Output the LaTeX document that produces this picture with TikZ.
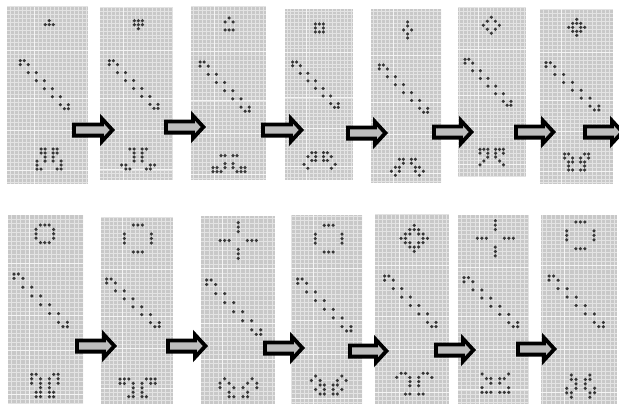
\documentclass[tikz,border=0pt]{standalone}
\definecolor{panelc}{HTML}{C8C8C8}
\definecolor{gridc}{HTML}{E3E3E3}
\definecolor{majc}{HTML}{F4F4F4}
\definecolor{dotc}{HTML}{363636}
\definecolor{arrowfill}{HTML}{BDBDBD}
\tikzset{
  panelbox/.style={fill=panelc, draw=none, inner sep=0pt, outer sep=0pt},
  minorline/.style={draw=gridc, line width=0.75pt},
  majorline/.style={draw=majc, line width=0.9pt},
  blockarr/.style={draw=black, fill=arrowfill, line width=3.8pt, miter limit=10},
}
% #1 name, #2 L, #3 T, #4 R, #5 B, #6 ox, #7 oy, #8 sx, #9 sy
\newcommand\gpanel[9]{%
  \node[panelbox, minimum width={#4-#2}, minimum height={#5-#3}] (#1) at ({(#2+#4)/2},{(#3+#5)/2}) {};
  \begin{scope}
    \clip (#1.north west) rectangle (#1.south east);
    \foreach \k in {-8,...,25} {\draw[minorline] ({#6-#8/2+\k*#8},#3) -- ({#6-#8/2+\k*#8},#5);}
    \foreach \k in {-20,...,40} {\draw[minorline] (#2,{#7-#9/2+\k*#9}) -- (#4,{#7-#9/2+\k*#9});}
    \foreach \k in {4} {\draw[majorline] ({#6-#8/2+\k*#8},#3) -- ({#6-#8/2+\k*#8},#5);}
    \foreach \k in {-2,10,18,28} {\draw[majorline] (#2,{#7-#9/2+\k*#9}) -- (#4,{#7-#9/2+\k*#9});}
  \end{scope}}
% #1 ox, #2 oy, #3 sx, #4 sy, #5 list c/r
\newcommand\cells[5]{\edef\mycelllist{#5}\foreach \c/\r in \mycelllist {\fill[dotc] ({#1+#3*\c},{#2+#4*\r}) circle (1.75pt);}}
\newcommand\chain[4]{\cells{#1}{#2}{#3}{#4}{0/0,1/0,0/1,2/1,2/3,4/3,4/5,6/5,6/7,8/7,8/9,10/9,10/11,12/11,11/12,12/12}}
\newcommand\ringpat{2/0,3/0,4/0,0/2,6/2,0/3,6/3,0/4,6/4,2/6,3/6,4/6}
\newcommand\crosspat{4/0,4/1,4/2,0/4,1/4,2/4,6/4,7/4,8/4,4/6,4/7,4/8}
% #1 x0, #2 x1 (tip), #3 yc
\newcommand\blockarrow[3]{%
  \draw[blockarr] ({#1+1.9},{#3-5.6}) -- ({#2-13.1},{#3-5.6}) -- ({#2-13.1},{#3-11.4}) -- ({#2-2.6},{#3}) -- ({#2-13.1},{#3+11.4}) -- ({#2-13.1},{#3+5.6}) -- ({#1+1.9},{#3+5.6}) -- cycle;}
\begin{document}
\begin{tikzpicture}[x=1pt,y=-1pt]
\useasboundingbox (0,0) rectangle (619,404);
\clip (0,0) rectangle (619,404);
% ---------- row 1 ----------
\gpanel{p1}{7}{7}{88}{184}{20.3}{60.7}{4.0}{4.0}
\gpanel{p2}{100}{7}{173}{180}{109.3}{60.7}{4.06}{3.97}
\gpanel{p3}{191}{6}{266}{180}{200}{62}{4.1}{4.1}
\gpanel{p4}{285}{9}{353}{180}{292.7}{62}{3.8}{3.78}
\gpanel{p5}{371}{9}{441}{183}{379.3}{65}{4.03}{3.94}
\gpanel{p6}{458}{7}{526}{177}{465}{59.3}{3.83}{3.83}
\gpanel{p7}{540}{9}{613}{184}{546}{62.7}{4.4}{3.94}
% ---------- row 2 ----------
\gpanel{p8}{8}{215}{83}{404}{14}{274}{4.45}{4.39}
\gpanel{p9}{101}{217}{173}{404}{106.7}{279}{4.38}{3.97}
\gpanel{p10}{201}{216}{275}{404}{206.7}{280}{4.5}{4.53}
\gpanel{p11}{291}{215}{362}{404}{297.7}{279}{4.44}{4.33}
\gpanel{p12}{375}{214}{449}{404}{384.7}{276}{4.28}{4.22}
\gpanel{p13}{458}{215}{529}{404}{464}{277.7}{4.47}{4.08}
\gpanel{p14}{541}{215}{617}{404}{549}{276}{4.53}{4.22}
% ---------- diagonal chains ----------
\chain{20.3}{60.7}{4.0}{4.0}
\chain{109.3}{60.7}{4.06}{3.97}
\chain{200}{62}{4.1}{4.1}
\chain{292.7}{62}{3.8}{3.78}
\chain{379.3}{65}{4.03}{3.94}
\chain{465}{59.3}{3.83}{3.83}
\chain{546}{62.7}{4.4}{3.94}
\chain{14}{274}{4.45}{4.39}
\chain{106.7}{279}{4.38}{3.97}
\chain{206.7}{280}{4.5}{4.53}
\chain{297.7}{279}{4.44}{4.33}
\chain{384.7}{276}{4.28}{4.22}
\chain{464}{277.7}{4.47}{4.08}
\chain{549}{276}{4.53}{4.22}
% ---------- top patterns ----------
\cells{45.3}{20.7}{4}{4}{1/0,0/1,1/1,2/1}
\cells{134.3}{20.7}{4}{4}{0/0,1/0,2/0,0/1,1/1,2/1,1/2}
\cells{225}{18}{4}{4}{1/0,0/1,2/1,0/3,1/3,2/3}
\cells{315.3}{24}{4}{4}{0/0,1/0,2/0,0/1,2/1,0/2,1/2,2/2}
\cells{403.7}{22}{4}{4}{1/0,1/1,0/2,2/2,1/3,1/4}
\cells{483.3}{17.3}{4}{4}{2/0,1/1,3/1,0/2,4/2,1/3,3/3,2/4}
\cells{568.7}{19.3}{4}{4}{2/0,1/1,2/1,3/1,0/2,1/2,3/2,4/2,1/3,2/3,3/3,2/4}
\cells{36}{225}{4.4}{4.4}{1/0,2/0,3/0,0/1,4/1,0/2,4/2,0/3,4/3,1/4,2/4,3/4}
\cells{124.3}{225}{4.5}{4.5}{\ringpat}
\cells{220}{222.7}{4.55}{4.45}{\crosspat}
\cells{315.3}{225.3}{4.45}{4.45}{\ringpat}
\cells{401}{225.3}{4.4}{4.35}{3/0,2/1,3/1,4/1,1/2,2/2,4/2,5/2,0/3,1/3,5/3,6/3,1/4,2/4,4/4,5/4,2/5,3/5,4/5,3/6}
\cells{477.3}{220.7}{4.5}{4.4}{\crosspat}
\cells{566.7}{222}{4.55}{4.45}{\ringpat}
% ---------- bottom patterns ----------
\cells{37}{149}{4}{4}{1/0,2/0,1/1,2/1,2/2,2/3,0/3,0/4,0/5,1/5,4/0,5/0,4/1,5/1,4/2,4/3,6/3,6/4,6/5,5/5}
\cells{121.7}{149}{4.1}{4}{2/0,3/0,5/0,6/0,3/1,5/1,3/2,5/2,3/3,5/3,0/4,1/4,7/4,8/4,1/5,2/5,6/5,7/5}
\cells{213}{155.7}{4}{4}{2/0,3/0,5/0,6/0,3/2,5/2,0/3,1/3,3/3,5/3,7/3,8/3,0/4,1/4,2/4,6/4,7/4,8/4}
\cells{304}{152.7}{3.9}{3.9}{2/0,3/0,5/0,6/0,1/1,3/1,5/1,7/1,2/2,3/2,5/2,6/2,0/3,8/3,1/4,7/4}
\cells{391.3}{159.3}{4}{4}{2/0,3/0,5/0,6/0,3/1,5/1,1/2,2/2,6/2,7/2,0/3,2/3,6/3,8/3,1/4,7/4}
\cells{480}{149.3}{3.9}{3.9}{0/0,1/0,2/0,4/0,5/0,6/0,0/1,2/1,4/1,6/1,2/2,4/2,1/3,5/3,0/4,6/4}
\cells{564.7}{154}{4}{4}{0/0,1/0,5/0,6/0,0/1,2/1,4/1,6/1,1/2,2/2,4/2,5/2,1/3,5/3,1/4,2/4,4/4,5/4}
\cells{31.7}{374.3}{4.4}{4.48}{0/0,1/0,5/0,6/0,0/1,2/1,4/1,6/1,0/2,2/2,4/2,6/2,2/3,4/3,1/4,2/4,4/4,5/4,1/5,2/5,4/5,5/5}
\cells{120}{379}{4.4}{4.42}{0/0,1/0,2/0,6/0,7/0,8/0,0/1,1/1,3/1,5/1,7/1,8/1,3/2,5/2,3/3,5/3,2/4,3/4,5/4,6/4}
\cells{220}{378.7}{4.6}{4.5}{1/0,0/1,2/1,0/2,3/2,2/3,2/4,3/4,7/0,8/1,6/1,8/2,5/2,6/3,5/4,6/4}
\cells{311.3}{376}{4.35}{4.5}{1/0,7/0,0/1,2/1,6/1,8/1,2/2,3/2,5/2,6/2,1/3,3/3,5/3,7/3,2/4,3/4,5/4,6/4}
\cells{396.7}{373.3}{4.4}{4.15}{1/0,2/0,6/0,7/0,0/1,3/1,5/1,8/1,3/2,5/2,3/3,5/3,2/5,3/5,5/5,6/5}
\cells{482}{374}{4.45}{4.58}{0/0,6/0,1/1,2/1,4/1,5/1,2/2,4/2,0/3,6/3,0/4,1/4,2/4,4/4,5/4,6/4}
\cells{566.7}{375}{4.65}{4.45}{1/0,5/0,1/1,2/1,4/1,5/1,2/2,4/2,0/3,2/3,4/3,6/3,0/4,1/4,5/4,6/4,1/5,5/5}
% ---------- arrows ----------
\blockarrow{72}{115}{130}
\blockarrow{164}{206}{127}
\blockarrow{261}{304}{130}
\blockarrow{346}{388}{133}
\blockarrow{432}{474}{132}
\blockarrow{514}{556}{132}
\blockarrow{583}{625}{132}
\blockarrow{75}{117}{346}
\blockarrow{166}{208}{346}
\blockarrow{263}{305}{348}
\blockarrow{348}{389}{351}
\blockarrow{434}{476}{350}
\blockarrow{516}{557}{349}
\end{tikzpicture}
\end{document}
